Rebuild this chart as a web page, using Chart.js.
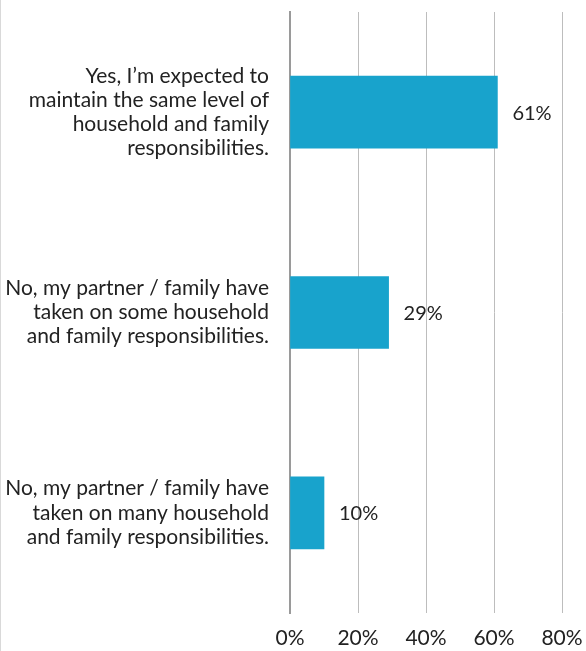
<!DOCTYPE html>
<html>
<head>
<meta charset="utf-8">
<script src="https://cdn.jsdelivr.net/npm/chart.js@4"></script>
<style>
  html, body { margin: 0; padding: 0; background: #fff; }
  #wrap { width: 585px; height: 651px; border-left: 1px solid #d9d9d9; }
</style>
</head>
<body>
<div id="wrap"><canvas id="myChart" width="585" height="651"></canvas></div>
<script>
var categories = [
    ['Yes, I\u2019m expected to', 'maintain the same level of', 'household and family', 'responsibilities.'],
    ['No, my partner / family have', 'taken on some household', 'and family responsibilities.'],
    ['No, my partner / family have', 'taken on many household', 'and family responsibilities.']
];
var values = [61, 29, 10];
var tickValues = [0, 20, 40, 60, 80];

Chart.defaults.font.family = 'Lato';
Chart.defaults.color = '#222';

// draws "61%" etc. just right of each bar
var valueLabels = {
    id: 'valueLabels',
    afterDatasetsDraw: function (chart) {
        var ctx = chart.ctx;
        var meta = chart.getDatasetMeta(0);
        ctx.save();
        ctx.font = '20px Lato';
        ctx.fillStyle = '#222';
        ctx.textAlign = 'left';
        ctx.textBaseline = 'middle';
        meta.data.forEach(function (bar, i) {
            ctx.fillText(values[i] + '%', bar.x + 15, bar.y + 1);
        });
        ctx.restore();
    }
};

var chartId = document.getElementById('myChart').getContext('2d');

var myChart = new Chart(chartId, {
    type: 'bar',
    data: {
        labels: categories,
        datasets: [{
            data: values,
            backgroundColor: '#18a3cc',
            barThickness: 72
        }]
    },
    options: {
        indexAxis: 'y',
        responsive: false,
        animation: false,
        layout: { padding: { top: 12, right: 24, left: 0, bottom: 0 } },
        plugins: {
            legend: { display: false },
            tooltip: { enabled: false }
        },
        scales: {
            x: {
                min: 0,
                max: 80,
                afterBuildTicks: function (scale) {
                    scale.ticks = tickValues.map(function (v) { return { value: v }; });
                },
                afterFit: function (scale) {
                    scale.height = 38;
                    scale.paddingLeft = 0;
                    scale.paddingRight = 0;
                },
                grid: { color: '#bdbdbd', lineWidth: 1, drawTicks: false },
                border: { display: false },
                ticks: {
                    padding: 13,
                    color: '#222',
                    font: { size: 21 },
                    callback: function (v) { return v + '%'; }
                }
            },
            y: {
                afterFit: function (scale) {
                    scale.width = 289;
                    scale.paddingTop = 0;
                    scale.paddingBottom = 0;
                },
                grid: { display: false },
                border: { color: '#9a9a9a', width: 2 },
                ticks: {
                    padding: 13,
                    color: '#222',
                    font: { size: 21, lineHeight: 1.15 }
                }
            }
        }
    },
    plugins: [valueLabels]
});
</script>
</body>
</html>
